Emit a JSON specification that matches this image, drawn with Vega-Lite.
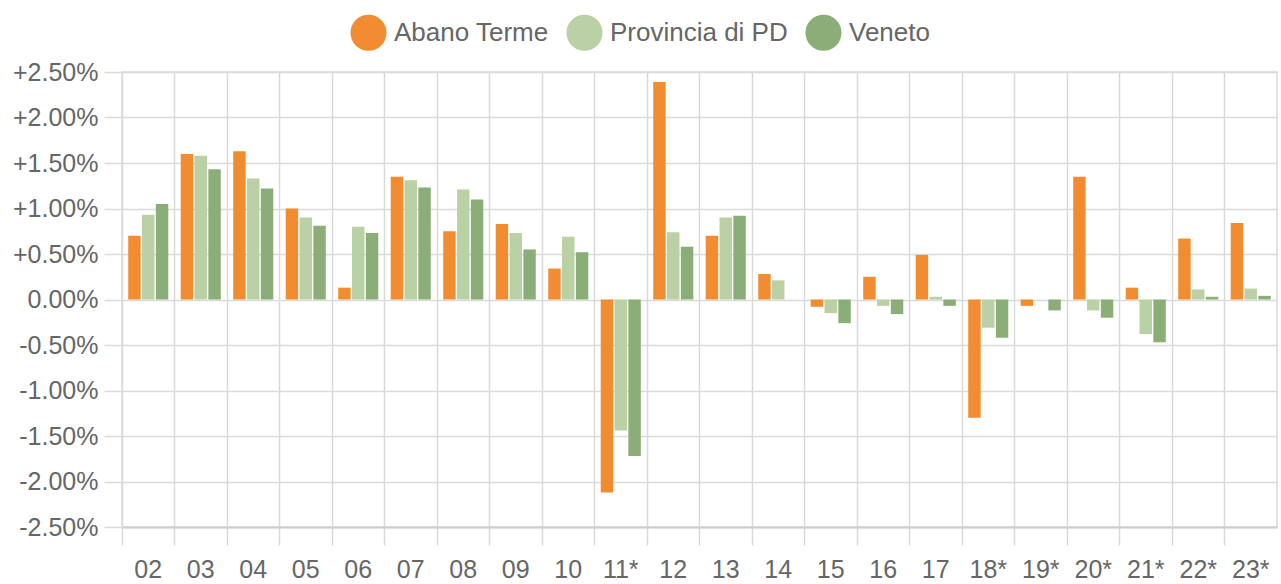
{
  "$schema": "https://vega.github.io/schema/vega-lite/v6.json",
  "width": 1155,
  "height": 455,
  "autosize": {"type": "none"},
  "padding": {"left": 122, "top": 72, "right": 4, "bottom": 57},
  "background": "white",
  "config": {
    "font": "Liberation Sans",
    "view": {"stroke": "#dadada", "strokeWidth": 1.5}
  },
  "data": {
    "values": [
      {"anno": "02", "serie": "Abano Terme", "val": 0.70},
      {"anno": "02", "serie": "Provincia di PD", "val": 0.93},
      {"anno": "02", "serie": "Veneto", "val": 1.05},
      {"anno": "03", "serie": "Abano Terme", "val": 1.60},
      {"anno": "03", "serie": "Provincia di PD", "val": 1.58},
      {"anno": "03", "serie": "Veneto", "val": 1.43},
      {"anno": "04", "serie": "Abano Terme", "val": 1.63},
      {"anno": "04", "serie": "Provincia di PD", "val": 1.33},
      {"anno": "04", "serie": "Veneto", "val": 1.22},
      {"anno": "05", "serie": "Abano Terme", "val": 1.00},
      {"anno": "05", "serie": "Provincia di PD", "val": 0.90},
      {"anno": "05", "serie": "Veneto", "val": 0.81},
      {"anno": "06", "serie": "Abano Terme", "val": 0.13},
      {"anno": "06", "serie": "Provincia di PD", "val": 0.80},
      {"anno": "06", "serie": "Veneto", "val": 0.73},
      {"anno": "07", "serie": "Abano Terme", "val": 1.35},
      {"anno": "07", "serie": "Provincia di PD", "val": 1.31},
      {"anno": "07", "serie": "Veneto", "val": 1.23},
      {"anno": "08", "serie": "Abano Terme", "val": 0.75},
      {"anno": "08", "serie": "Provincia di PD", "val": 1.21},
      {"anno": "08", "serie": "Veneto", "val": 1.10},
      {"anno": "09", "serie": "Abano Terme", "val": 0.83},
      {"anno": "09", "serie": "Provincia di PD", "val": 0.73},
      {"anno": "09", "serie": "Veneto", "val": 0.55},
      {"anno": "10", "serie": "Abano Terme", "val": 0.34},
      {"anno": "10", "serie": "Provincia di PD", "val": 0.69},
      {"anno": "10", "serie": "Veneto", "val": 0.52},
      {"anno": "11*", "serie": "Abano Terme", "val": -2.12},
      {"anno": "11*", "serie": "Provincia di PD", "val": -1.44},
      {"anno": "11*", "serie": "Veneto", "val": -1.72},
      {"anno": "12", "serie": "Abano Terme", "val": 2.39},
      {"anno": "12", "serie": "Provincia di PD", "val": 0.74},
      {"anno": "12", "serie": "Veneto", "val": 0.58},
      {"anno": "13", "serie": "Abano Terme", "val": 0.70},
      {"anno": "13", "serie": "Provincia di PD", "val": 0.90},
      {"anno": "13", "serie": "Veneto", "val": 0.92},
      {"anno": "14", "serie": "Abano Terme", "val": 0.28},
      {"anno": "14", "serie": "Provincia di PD", "val": 0.21},
      {"anno": "14", "serie": "Veneto", "val": 0.00},
      {"anno": "15", "serie": "Abano Terme", "val": -0.08},
      {"anno": "15", "serie": "Provincia di PD", "val": -0.15},
      {"anno": "15", "serie": "Veneto", "val": -0.26},
      {"anno": "16", "serie": "Abano Terme", "val": 0.25},
      {"anno": "16", "serie": "Provincia di PD", "val": -0.07},
      {"anno": "16", "serie": "Veneto", "val": -0.16},
      {"anno": "17", "serie": "Abano Terme", "val": 0.49},
      {"anno": "17", "serie": "Provincia di PD", "val": 0.03},
      {"anno": "17", "serie": "Veneto", "val": -0.07},
      {"anno": "18*", "serie": "Abano Terme", "val": -1.30},
      {"anno": "18*", "serie": "Provincia di PD", "val": -0.31},
      {"anno": "18*", "serie": "Veneto", "val": -0.42},
      {"anno": "19*", "serie": "Abano Terme", "val": -0.07},
      {"anno": "19*", "serie": "Provincia di PD", "val": 0.00},
      {"anno": "19*", "serie": "Veneto", "val": -0.12},
      {"anno": "20*", "serie": "Abano Terme", "val": 1.35},
      {"anno": "20*", "serie": "Provincia di PD", "val": -0.12},
      {"anno": "20*", "serie": "Veneto", "val": -0.20},
      {"anno": "21*", "serie": "Abano Terme", "val": 0.13},
      {"anno": "21*", "serie": "Provincia di PD", "val": -0.38},
      {"anno": "21*", "serie": "Veneto", "val": -0.47},
      {"anno": "22*", "serie": "Abano Terme", "val": 0.67},
      {"anno": "22*", "serie": "Provincia di PD", "val": 0.11},
      {"anno": "22*", "serie": "Veneto", "val": 0.03},
      {"anno": "23*", "serie": "Abano Terme", "val": 0.84},
      {"anno": "23*", "serie": "Provincia di PD", "val": 0.12},
      {"anno": "23*", "serie": "Veneto", "val": 0.04}
    ]
  },
  "mark": {"type": "bar"},
  "encoding": {
    "x": {
      "field": "anno",
      "type": "nominal",
      "sort": null,
      "scale": {"paddingInner": 0, "paddingOuter": 0},
      "axis": {
        "title": null,
        "bandPosition": 0,
        "grid": true,
        "gridColor": "#dadada",
        "gridWidth": 1.5,
        "ticks": true,
        "tickSize": 18,
        "tickColor": "#dadada",
        "tickWidth": 1.5,
        "domain": true,
        "domainColor": "#cfcfcf",
        "domainWidth": 2,
        "labelAngle": 0,
        "labelPadding": 12,
        "labelFontSize": 25,
        "labelColor": "#666666",
        "labelAlign": "center"
      }
    },
    "xOffset": {
      "field": "serie",
      "type": "nominal",
      "sort": ["Abano Terme", "Provincia di PD", "Veneto"],
      "scale": {"paddingInner": 0.1, "paddingOuter": 0.45}
    },
    "y": {
      "field": "val",
      "type": "quantitative",
      "scale": {"domain": [-2.5, 2.5], "nice": false, "zero": true},
      "axis": {
        "title": null,
        "values": [-2.5, -2, -1.5, -1, -0.5, 0, 0.5, 1, 1.5, 2, 2.5],
        "labelExpr": "datum.value > 0.0001 ? '+' + format(datum.value, '.2f') + '%' : (datum.value < -0.0001 ? '-' + format(-datum.value, '.2f') + '%' : '0.00%')",
        "grid": true,
        "gridColor": "#dadada",
        "gridWidth": 1.5,
        "ticks": true,
        "tickSize": 18,
        "tickColor": "#dadada",
        "tickWidth": 1.5,
        "domain": false,
        "labelPadding": 6,
        "labelFontSize": 25,
        "labelColor": "#666666"
      }
    },
    "color": {
      "field": "serie",
      "type": "nominal",
      "sort": ["Abano Terme", "Provincia di PD", "Veneto"],
      "scale": {
        "domain": ["Abano Terme", "Provincia di PD", "Veneto"],
        "range": ["#F28C30", "#B9D1A4", "#8BAE78"]
      },
      "legend": {
        "title": null,
        "orient": "none",
        "direction": "horizontal",
        "legendX": 228,
        "legendY": -58,
        "symbolType": "circle",
        "symbolSize": 1300,
        "symbolStrokeWidth": 0,
        "symbolOpacity": 1,
        "labelFontSize": 26,
        "labelColor": "#666666",
        "labelOffset": 7,
        "labelLimit": 400,
        "columnPadding": 17
      }
    }
  }
}
